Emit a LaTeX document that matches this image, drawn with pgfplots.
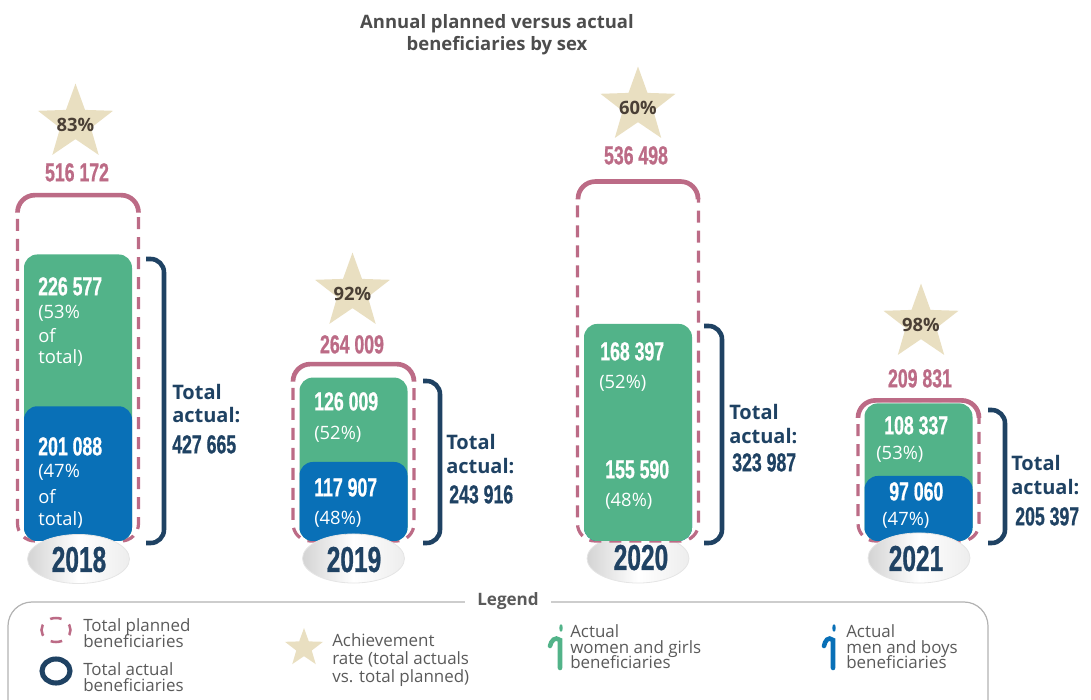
\documentclass[border=0pt]{standalone}
\usepackage{fontspec}
\usepackage{pgfplots}
\pgfplotsset{compat=1.18}
\usetikzlibrary{shapes.geometric}
\setmainfont{Open Sans}
\newfontfamily\numf[FakeStretch=0.68,WordSpace=1.5,BoldFeatures={FakeBold=0.7}]{Liberation Sans}
\newfontfamily\yearf[FakeStretch=0.68,BoldFeatures={FakeBold=0.7}]{Liberation Sans}

\definecolor{grn}{HTML}{52B389}
\definecolor{blu}{HTML}{0970B7}
\definecolor{navy}{HTML}{1F4263}
\definecolor{pnk}{HTML}{BC6B86}
\definecolor{sand}{HTML}{E9DFC1}
\definecolor{brn}{HTML}{4A3F35}
\definecolor{ttl}{HTML}{4D4D4D}
\definecolor{lgd}{HTML}{5A5A5A}

% 1px = 0.75pt, pixel position measured from top left of the picture
\makeatletter
\def\pscan#1,#2\relax{\pgf@x=0.75\dimexpr #1pt\relax \pgf@y=0.75\dimexpr 699pt-#2pt\relax}
\tikzdeclarecoordinatesystem{p}{\pscan#1\relax}
\makeatother

\pgfdeclareplotmark{fstar}{%
  \pgfpathmoveto{\pgfpointpolar{90}{\pgfplotmarksize}}%
  \foreach \a in {0,1,2,3,4}{%
    \pgfpathlineto{\pgfpointpolar{126+72*\a}{0.41\pgfplotmarksize}}%
    \pgfpathlineto{\pgfpointpolar{162+72*\a}{\pgfplotmarksize}}%
  }%
  \pgfpathclose\pgfusepathqfill}

\newcommand{\T}[5]{\node[anchor=#3,inner sep=0pt,text depth=0pt] at (p cs:#1,#2) {#4\rule{0pt}{0.72em}#5};}
\newcommand{\numsz}{\fontsize{19.5}{20}\selectfont\numf\bfseries}
\newcommand{\yrsz}{\fontsize{27}{27}\selectfont\yearf\bfseries}
\newcommand{\pctsz}{\fontsize{13.8}{14}\selectfont}
\newcommand{\totsz}{\fontsize{15}{16}\selectfont\bfseries}
\newcommand{\lgsz}{\fontsize{12.7}{13}\selectfont}

\tikzset{bar base/.style={ybar,bar shift=0pt,rounded corners=10pt},
  plan/.style={ybar,bar shift=0pt,bar width=90.75pt,draw=pnk,fill=none,line width=2.4pt,
    dash pattern=on 9pt off 6pt,rounded corners=13pt},
  plantop/.style={draw=pnk,line width=3.5pt,rounded corners=13pt,no markers},
  brk/.style={draw=navy,line width=3.4pt,rounded corners=10pt,no markers},
  oval/.style={left color=black!17,right color=black!7,middle color=white,draw=black!10,line width=0.6pt}}

\begin{document}
\begin{tikzpicture}
\path[use as bounding box] (0,0) rectangle (818.25pt,524.25pt);
\begin{axis}[
  at={(0,0)},anchor=south west,
  width=818.25pt,height=524.25pt,scale only axis,
  hide axis,clip=false,
  xmin=0,xmax=1091,
  ymin=-235821,ymax=807463,
]
% 2020 plinth sits behind the bar
\shade[oval] (p cs:638,558.5) ellipse (38.25pt and 18.4pt);

% planned, dashed outline
\addplot[plan] coordinates {(78,516172) (353.5,264009) (638,536498) (918.5,209831)};
% solid top of the planned outline
\addplot[plantop] coordinates {(17.5,490000) (17.5,516172) (138.5,516172) (138.5,490000)};
\addplot[plantop] coordinates {(293,238000) (293,264009) (414,264009) (414,238000)};
\addplot[plantop] coordinates {(578,510000) (578,536498) (698,536498) (698,510000)};
\addplot[plantop] coordinates {(858,184000) (858,209831) (979,209831) (979,184000)};

% actual, men and boys under the total in 2020
\addplot[bar base,bar width=81pt,fill=blu,draw=none] coordinates {(638,155590)};
% actual, total
\addplot[bar base,bar width=81pt,fill=grn,draw=none] coordinates {(78,427665) (353.5,243916) (638,323987) (918.5,205397)};
% actual, men and boys
\addplot[bar base,bar width=81pt,fill=blu,draw=none] coordinates {(78,201088) (353.5,117907) (918.5,97060)};

% total actual brackets
\addplot[brk] coordinates {(146,420896) (164,420896) (164,-3000) (146,-3000)};
\addplot[brk] coordinates {(423,238806) (440,238806) (440,-3000) (423,-3000)};
\addplot[brk] coordinates {(704,320896) (722,320896) (722,-3000) (704,-3000)};
\addplot[brk] coordinates {(988,195522) (1005,195522) (1005,-3000) (988,-3000)};

% achievement stars
\addplot[only marks,mark=fstar,mark size=29.6pt,color=sand,point meta=explicit symbolic,
  nodes near coords,nodes near coords style={anchor=center,inner sep=0pt,text=brn,yshift=-1.5pt,
  font=\fontsize{13.8}{14}\selectfont\bfseries}]
  coordinates {(75.5,623881)[83\%] (352.5,371642)[92\%] (638,649254)[60\%] (921,325373)[98\%]};

% plinths
\shade[oval] (p cs:78.5,559) ellipse (38.25pt and 18.4pt);
\shade[oval] (p cs:353.5,558.5) ellipse (38.25pt and 18.4pt);
\shade[oval] (p cs:919,558) ellipse (38.25pt and 18.8pt);

% title
\T{497}{21}{center}{\fontsize{13.85}{14}\selectfont\bfseries\color{ttl}}{Annual planned versus actual}
\T{497}{43}{center}{\fontsize{13.85}{14}\selectfont\bfseries\color{ttl}}{beneficiaries by sex}

% planned values
\T{77}{172}{center}{\numsz\color{pnk}}{516 172}
\T{352}{344}{center}{\numsz\color{pnk}}{264 009}
\T{636}{155}{center}{\numsz\color{pnk}}{536 498}
\T{920}{378}{center}{\numsz\color{pnk}}{209 831}

% 2018
\T{38}{286}{west}{\numsz\color{white}}{226 577}
\T{38}{312}{west}{\pctsz\color{white}}{(53\%}
\T{38}{335}{west}{\pctsz\color{white}}{of}
\T{38}{357}{west}{\pctsz\color{white}}{total)}
\T{38}{446}{west}{\numsz\color{white}}{201 088}
\T{38}{471}{west}{\pctsz\color{white}}{(47\%}
\T{38}{496}{west}{\pctsz\color{white}}{of}
\T{38}{519}{west}{\pctsz\color{white}}{total)}
\T{172}{392}{west}{\totsz\color{navy}}{Total}
\T{172}{415}{west}{\totsz\color{navy}}{actual:}
\T{172}{444}{west}{\numsz\color{navy}}{427 665}
\T{79}{559}{center}{\yrsz\color{navy}}{2018}

% 2019
\T{314}{401}{west}{\numsz\color{white}}{126 009}
\T{314}{433}{west}{\pctsz\color{white}}{(52\%)}
\T{314}{487}{west}{\numsz\color{white}}{117 907}
\T{314}{518}{west}{\pctsz\color{white}}{(48\%)}
\T{446}{442}{west}{\totsz\color{navy}}{Total}
\T{446}{466}{west}{\totsz\color{navy}}{actual:}
\T{449}{494}{west}{\numsz\color{navy}}{243 916}
\T{354}{559}{center}{\yrsz\color{navy}}{2019}

% 2020
\T{600}{351}{west}{\numsz\color{white}}{168 397}
\T{599}{382}{west}{\pctsz\color{white}}{(52\%)}
\T{605}{469}{west}{\numsz\color{white}}{155 590}
\T{605}{500}{west}{\pctsz\color{white}}{(48\%)}
\T{729}{412}{west}{\totsz\color{navy}}{Total}
\T{729}{436}{west}{\totsz\color{navy}}{actual:}
\T{732}{462}{west}{\numsz\color{navy}}{323 987}
\T{641}{557}{center}{\yrsz\color{navy}}{2020}

% 2021
\T{884}{425}{west}{\numsz\color{white}}{108 337}
\T{876}{453}{west}{\pctsz\color{white}}{(53\%)}
\T{889}{491}{west}{\numsz\color{white}}{97 060}
\T{882}{519}{west}{\pctsz\color{white}}{(47\%)}
\T{1011}{463}{west}{\totsz\color{navy}}{Total}
\T{1011}{487}{west}{\totsz\color{navy}}{actual:}
\T{1015}{516}{west}{\numsz\color{navy}}{205 397}
\T{916}{558}{center}{\yrsz\color{navy}}{2021}

% legend frame
\draw[black!30,line width=0.9pt,rounded corners=18pt] (p cs:8,710) -- (p cs:8,602) -- (p cs:988,602) -- (p cs:988,710);
\node[fill=white,inner xsep=9pt,inner ysep=1pt,text depth=0pt] at (p cs:508,599) {\fontsize{12.8}{13}\selectfont\bfseries\color{lgd}\rule{0pt}{0.72em}Legend};

% legend keys
\draw[pnk,line width=1.9pt,dash pattern=on 8.7pt off 7pt,dash phase=4.35pt] (p cs:56,630) ellipse (10.9pt and 9pt);
\draw[navy,line width=3.8pt] (p cs:56,671) ellipse (10.5pt and 9pt);
\node[star,star points=5,star point ratio=2.45,fill=sand,inner sep=0pt,minimum size=30pt] at (p cs:304,648) {};
\draw[grn,line width=3.4pt,line cap=round] (p cs:560,668) -- (p cs:560,640) .. controls (p cs:555,636) and (p cs:551,641) .. (p cs:550,646);
\fill[grn] (p cs:561,628) ellipse (1.3pt and 2.8pt);
\draw[blu,line width=3.4pt,line cap=round] (p cs:833,668) -- (p cs:833,640) .. controls (p cs:828,636) and (p cs:825,641) .. (p cs:824,646);
\fill[blu] (p cs:834,628) ellipse (1.3pt and 2.8pt);

% legend text
\T{83}{625}{west}{\lgsz\color{lgd}}{Total planned}
\T{83}{641}{west}{\lgsz\color{lgd}}{beneficiaries}
\T{83}{669}{west}{\lgsz\color{lgd}}{Total actual}
\T{83}{685}{west}{\lgsz\color{lgd}}{beneficiaries}
\T{332}{640}{west}{\lgsz\color{lgd}}{Achievement}
\T{332}{658}{west}{\lgsz\color{lgd}}{rate (total actuals}
\T{332}{676}{west}{\lgsz\color{lgd}}{vs. total planned)}
\T{570}{631}{west}{\lgsz\color{lgd}}{Actual}
\T{570}{647}{west}{\lgsz\color{lgd}}{women and girls}
\T{570}{662}{west}{\lgsz\color{lgd}}{beneficiaries}
\T{846}{631}{west}{\lgsz\color{lgd}}{Actual}
\T{846}{647}{west}{\lgsz\color{lgd}}{men and boys}
\T{846}{662}{west}{\lgsz\color{lgd}}{beneficiaries}
\end{axis}
\end{tikzpicture}
\end{document}
